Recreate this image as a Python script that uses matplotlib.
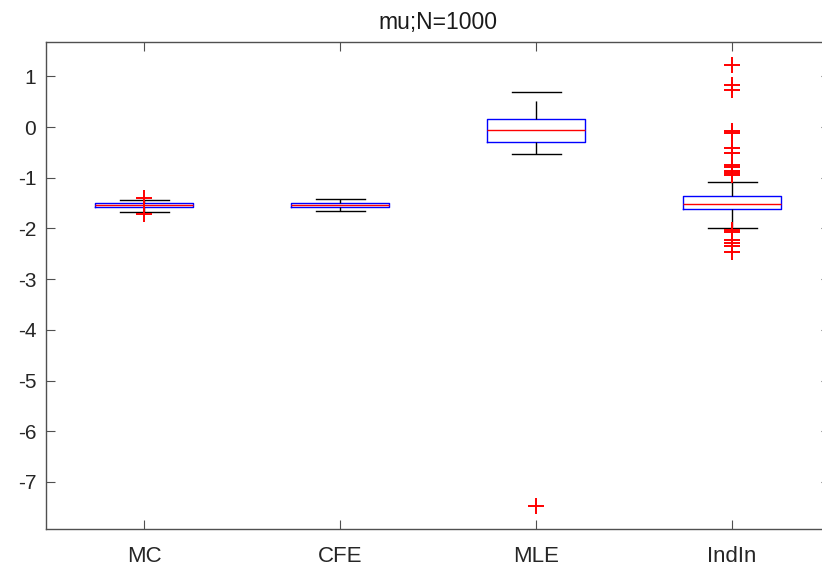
import matplotlib
matplotlib.use("Agg")
import matplotlib.pyplot as plt

plt.rcParams["font.family"] = ["Liberation Sans", "DejaVu Sans"]

# Box statistics per estimator (mu, N=1000)
methods = ["MC", "CFE", "MLE", "IndIn"]
medians = [-1.53, -1.54, -0.05, -1.52]
q1s = [-1.58, -1.58, -0.29, -1.62]
q3s = [-1.50, -1.50, 0.17, -1.35]
whis_lo = [-1.67, -1.66, -0.53, -1.99]
whis_hi = [-1.43, -1.41, 0.70, -1.08]
outliers = [
    [-1.40, -1.72],
    [],
    [-7.48],
    [1.22, 0.84, 0.73, -0.08, -0.11, -0.41, -0.52, -0.75, -0.79, -0.86,
     -0.91, -0.95, -2.03, -2.06, -2.23, -2.28, -2.35, -2.46],
]
yticks = [1, 0, -1, -2, -3, -4, -5, -6, -7]

stats = []
for lab, med, q1, q3, lo, hi, fl in zip(methods, medians, q1s, q3s,
                                         whis_lo, whis_hi, outliers):
    stats.append(dict(label=lab, med=med, q1=q1, q3=q3,
                      whislo=lo, whishi=hi, fliers=fl))

fig = plt.figure(figsize=(8.22, 5.73), dpi=100)
ax = fig.add_axes([46 / 822, 44 / 573, 784 / 822, 487 / 573])

ax.bxp(stats, positions=range(1, len(methods) + 1), widths=0.5,
       capwidths=0.25,
       boxprops=dict(color="blue", linewidth=1.0),
       medianprops=dict(color="red", linewidth=1.0),
       whiskerprops=dict(color="black", linewidth=1.0, linestyle=(0, (13, 7))),
       capprops=dict(color="black", linewidth=1.0),
       flierprops=dict(marker="+", markeredgecolor="red", markersize=12,
                       markeredgewidth=1.4, linestyle="none"))

ax.set_xlim(0.5, len(methods) + 0.5)
ax.set_ylim(-7.93, 1.68)
ax.set_yticks(yticks)
ax.set_yticklabels([str(t) for t in yticks])
ax.set_xticklabels(methods)

for s in ax.spines.values():
    s.set_color("#505050")
    s.set_linewidth(1.0)
ax.tick_params(axis="both", direction="in", length=6.5, width=0.8,
               color="#505050", top=True, right=True, labelcolor="#262626")
ax.tick_params(axis="y", labelsize=15, pad=7)
ax.tick_params(axis="x", labelsize=16, pad=12)

ax.set_title("mu;N=1000", fontsize=16.5, color="#1a1a1a", pad=9)

fig.savefig("out.png", dpi=100)
